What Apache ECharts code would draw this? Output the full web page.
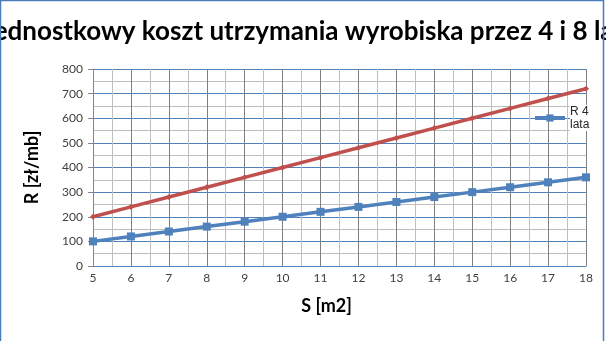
<!DOCTYPE html>
<html><head><meta charset="utf-8">
<script src="https://cdn.jsdelivr.net/npm/echarts@6/dist/echarts.min.js"></script>
<style>html,body{margin:0;padding:0;background:#fff}#c{width:606px;height:341px}</style>
</head><body><div id="c"></div>
<script>
const titleText = 'Jednostkowy koszt utrzymania wyrobiska przez 4 i 8 lat';
const xName = 'S [m2]';
const yName = 'R [zł/mb]';
const sValues = [5,6,7,8,9,10,11,12,13,14,15,16,17,18];
const r8Values = [200,240,280,320,360,400,440,480,520,560,600,640,680,720];
const r4Values = [100,120,140,160,180,200,220,240,260,280,300,320,340,360];
const r4Name = 'R 4 lata';
const r8Name = 'R 8 lat';

const chart = echarts.init(document.getElementById('c'));
const font = 'Lato, "Open Sans", sans-serif';
chart.setOption({
  animation: false,
  title: {
    text: titleText, left: 'center', top: 14,
    textStyle: {fontFamily: font, fontSize: 26, fontWeight: 'bold', color: '#000'}
  },
  graphic: [{type:'rect', shape:{x:0.5,y:0.5,width:603,height:345}, style:{fill:'none', stroke:'#4a7ebb', lineWidth:1.5}, z:100}],
  legend: {
    data: [r4Name], left: 533, top: 105, orient: 'vertical', padding: 0,
    itemWidth: 30, itemHeight: 9, itemGap: 0,
    lineStyle: {width: 4},
    formatter: n => n.replace(' lata', '\nlata'),
    textStyle: {fontFamily: 'Liberation Sans, Arial, sans-serif', fontSize: 12, color: '#262626', lineHeight: 13, backgroundColor: '#fff', padding: [0, 1, 0, 0]}
  },
  grid: {left: 93, right: 20, top: 69, bottom: 75},
  xAxis: {
    type: 'value', min: 5, max: 18, interval: 1,
    name: xName, nameLocation: 'middle', nameGap: 31,
    nameTextStyle: {fontFamily: font, fontSize: 18, fontWeight: 'bold', color: '#000', padding: [0, 26, 0, 0]},
    axisLine: {show: true, lineStyle: {color: '#4f81bd', width: 1}},
    axisTick: {show: false},
    axisLabel: {fontFamily: font, fontSize: 12, color: '#404040', margin: 6},
    splitLine: {show: true, lineStyle: {color: '#7f7f7f', width: 1}},
    minorTick: {show: false, splitNumber: 2},
    minorSplitLine: {show: true, lineStyle: {color: '#bfbfbf', width: 1}}
  },
  yAxis: {
    type: 'value', min: 0, max: 800, interval: 100,
    name: yName, nameLocation: 'middle', nameGap: 52, nameRotate: 90,
    nameTextStyle: {fontFamily: font, fontSize: 18, fontWeight: 'bold', color: '#000'},
    axisLine: {show: true, lineStyle: {color: '#868686', width: 1}},
    axisTick: {show: true, length: 5, lineStyle: {color: '#868686'}},
    axisLabel: {fontFamily: font, fontSize: 12, color: '#404040', margin: 10},
    splitLine: {show: true, lineStyle: {color: '#4f81bd', width: 1}},
    minorTick: {show: false, splitNumber: 2},
    minorSplitLine: {show: true, lineStyle: {color: '#bfbfbf', width: 1}}
  },
  series: [
    {
      name: r8Name, type: 'line', data: sValues.map((s,i)=>[s, r8Values[i]]),
      symbol: 'diamond', symbolSize: 6,
      lineStyle: {color: '#c0504d', width: 3.5},
      itemStyle: {color: '#c0504d'}
    },
    {
      name: r4Name, type: 'line', data: sValues.map((s,i)=>[s, r4Values[i]]),
      symbol: 'rect', symbolSize: 8,
      lineStyle: {color: '#4f81bd', width: 3.5},
      itemStyle: {color: '#4f81bd'}
    }
  ]
});
</script></body></html>
